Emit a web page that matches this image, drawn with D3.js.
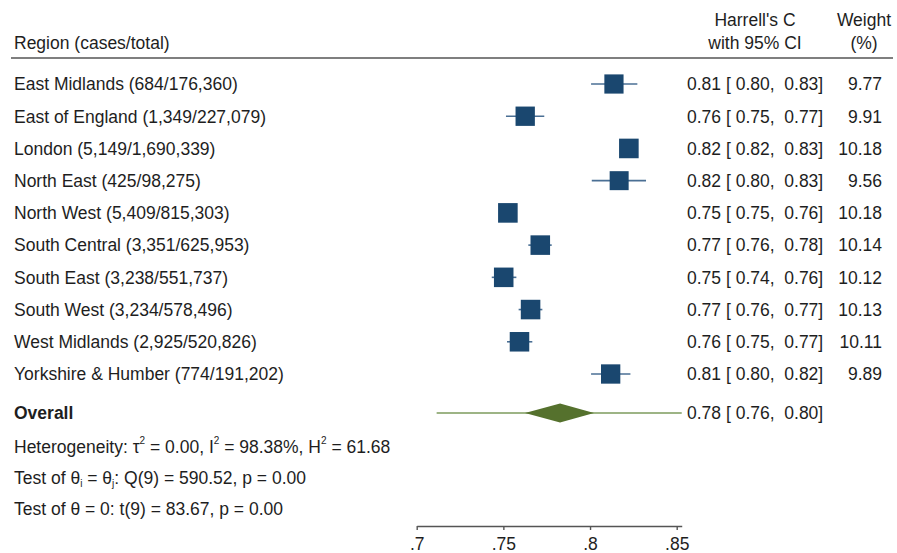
<!DOCTYPE html>
<html>
<head>
<meta charset="utf-8">
<script src="https://cdn.jsdelivr.net/npm/d3@7"></script>
<style>
  html, body { margin: 0; padding: 0; background: #fff; }
  svg text { font-family: "Liberation Sans", Arial, sans-serif; fill: #1e1e1e; }
</style>
</head>
<body>
<svg id="chart" width="897" height="553"></svg>
<script>
// Study rows: region label with cases/total
const regions = [
  "East Midlands (684/176,360)",
  "East of England (1,349/227,079)",
  "London (5,149/1,690,339)",
  "North East (425/98,275)",
  "North West (5,409/815,303)",
  "South Central (3,351/625,953)",
  "South East (3,238/551,737)",
  "South West (3,234/578,496)",
  "West Midlands (2,925/520,826)",
  "Yorkshire & Humber (774/191,202)"
];
// Harrell's C estimate and 95% CI per region
const cIndex = [0.8138, 0.7626, 0.8224, 0.8168, 0.7526, 0.7713, 0.7502, 0.7657, 0.7593, 0.8119];
const ciLower = [0.8006, 0.7515, 0.8185, 0.8010, 0.7490, 0.7644, 0.7433, 0.7588, 0.7521, 0.8006];
const ciUpper = [0.8273, 0.7736, 0.8262, 0.8323, 0.7562, 0.7779, 0.7575, 0.7725, 0.7667, 0.8233];
// Random-effects weights (%)
const weights = [9.77, 9.91, 10.18, 9.56, 10.18, 10.14, 10.12, 10.13, 10.11, 9.89];
// Pooled estimate, its CI, and the prediction interval
const overall = { est: 0.7827, lo: 0.7625, hi: 0.8023 };
const predInterval = [0.7115, 0.8529];
// Heterogeneity and test statistics
const hetStats = { tau2: "0.00", I2: "98.38%", H2: "61.68" };
const qTest = { df: 9, Q: "590.52", p: "0.00" };
const tTest = { df: 9, t: "83.67", p: "0.00" };
// Axis ticks
const xTicks = [0.7, 0.75, 0.8, 0.85];

const svg = d3.select("#chart");
const FS = 17.5;
const BL = 6.3; // baseline offset from a row's centre line
const f2 = d3.format(".2f");

// x scale: unit span calibrated so .7 -> 416.7 and .85 -> 676.7
const pxPerUnit = (676.7 - 416.7) / 0.15;
const xMin = 0.7, xMax = predInterval[1];
const x = d3.scaleLinear().domain([xMin, xMax])
  .range([416.7, 416.7 + (xMax - xMin) * pxPerUnit]);

const y = d3.scalePoint().domain(regions).range([84, 374]);
const yOverall = 413;

// Header
const hdr = svg.append("g");
hdr.append("text").attr("x", 14).attr("y", 49).attr("font-size", FS).text("Region (cases/total)");
hdr.append("text").attr("x", 755).attr("y", 26).attr("font-size", FS).attr("text-anchor", "middle").text("Harrell's C");
hdr.append("text").attr("x", 755).attr("y", 49).attr("font-size", FS).attr("text-anchor", "middle").text("with 95% CI");
hdr.append("text").attr("x", 864).attr("y", 26).attr("font-size", FS).attr("text-anchor", "middle").text("Weight");
hdr.append("text").attr("x", 864).attr("y", 49).attr("font-size", FS).attr("text-anchor", "middle").text("(%)");
hdr.append("line").attr("x1", 11).attr("x2", 893).attr("y1", 58).attr("y2", 58)
  .attr("stroke", "#555").attr("stroke-width", 1.6);

// Study rows
const rows = svg.append("g").selectAll("g").data(regions).join("g")
  .attr("transform", d => `translate(0,${y(d)})`);

rows.append("text").attr("x", 14).attr("y", BL).attr("font-size", FS).text(d => d);

rows.append("line")
  .attr("x1", (d, i) => x(ciLower[i])).attr("x2", (d, i) => x(ciUpper[i]))
  .attr("y1", 0).attr("y2", 0)
  .attr("stroke", "#4a6f94").attr("stroke-width", 1.6);

const side = w => 6.14 * Math.sqrt(w);
rows.append("rect")
  .attr("x", (d, i) => x(cIndex[i]) - side(weights[i]) / 2)
  .attr("y", (d, i) => -side(weights[i]) / 2)
  .attr("width", (d, i) => side(weights[i]))
  .attr("height", (d, i) => side(weights[i]))
  .attr("fill", "#1a476f");

rows.append("text").attr("x", 687).attr("y", BL).attr("font-size", FS)
  .style("white-space", "pre")
  .text((d, i) => `${f2(cIndex[i])} [ ${f2(ciLower[i])},  ${f2(ciUpper[i])}]`);

rows.append("text").attr("x", 882).attr("y", BL).attr("font-size", FS)
  .attr("text-anchor", "end")
  .text((d, i) => f2(weights[i]));

// Overall row
const ov = svg.append("g").attr("transform", `translate(0,${yOverall})`);
ov.append("text").attr("x", 14).attr("y", BL).attr("font-size", FS).attr("font-weight", "bold").text("Overall");
ov.append("line").attr("x1", x(predInterval[0])).attr("x2", x(predInterval[1]))
  .attr("y1", 0).attr("y2", 0).attr("stroke", "#7c9b5c").attr("stroke-width", 1.6);
ov.append("path")
  .attr("d", `M${x(overall.lo)},0 L${x(overall.est)},-9.5 L${x(overall.hi)},0 L${x(overall.est)},9.5 Z`)
  .attr("fill", "#55712d");
ov.append("text").attr("x", 687).attr("y", BL).attr("font-size", FS)
  .style("white-space", "pre")
  .text(`${f2(overall.est)} [ ${f2(overall.lo)},  ${f2(overall.hi)}]`);

// Heterogeneity and tests
const notes = svg.append("g").attr("font-size", FS);
const t1 = notes.append("text").attr("x", 14).attr("y", 453);
t1.append("tspan").text("Heterogeneity: τ");
t1.append("tspan").attr("font-size", 10).attr("dy", -9.5).text("2");
t1.append("tspan").attr("dy", 9.5).text(` = ${hetStats.tau2}, I`);
t1.append("tspan").attr("font-size", 10).attr("dy", -9.5).text("2");
t1.append("tspan").attr("dy", 9.5).text(` = ${hetStats.I2}, H`);
t1.append("tspan").attr("font-size", 10).attr("dy", -9.5).text("2");
t1.append("tspan").attr("dy", 9.5).text(` = ${hetStats.H2}`);

const t2 = notes.append("text").attr("x", 14).attr("y", 484);
t2.append("tspan").text("Test of θ");
t2.append("tspan").attr("font-size", 10).attr("dy", 3).text("i");
t2.append("tspan").attr("dy", -3).text(" = θ");
t2.append("tspan").attr("font-size", 10).attr("dy", 3).text("j");
t2.append("tspan").attr("dy", -3).text(`: Q(${qTest.df}) = ${qTest.Q}, p = ${qTest.p}`);

notes.append("text").attr("x", 14).attr("y", 515)
  .text(`Test of θ = 0: t(${tTest.df}) = ${tTest.t}, p = ${tTest.p}`);

// x axis
const axis = d3.axisBottom(x).tickValues(xTicks)
  .tickFormat(d => d3.format("~g")(d).replace(/^0/, ""))
  .tickSizeInner(4).tickSizeOuter(0).tickPadding(8);
const ax = svg.append("g").attr("transform", "translate(0,526)").call(axis);
ax.select(".domain").attr("stroke", "#555").attr("stroke-width", 1.4);
ax.selectAll(".tick line").attr("stroke", "#555").attr("stroke-width", 1.4);
ax.selectAll(".tick text").attr("font-size", FS).attr("fill", "#1e1e1e")
  .attr("font-family", "Liberation Sans, Arial, sans-serif");
</script>
</body>
</html>
